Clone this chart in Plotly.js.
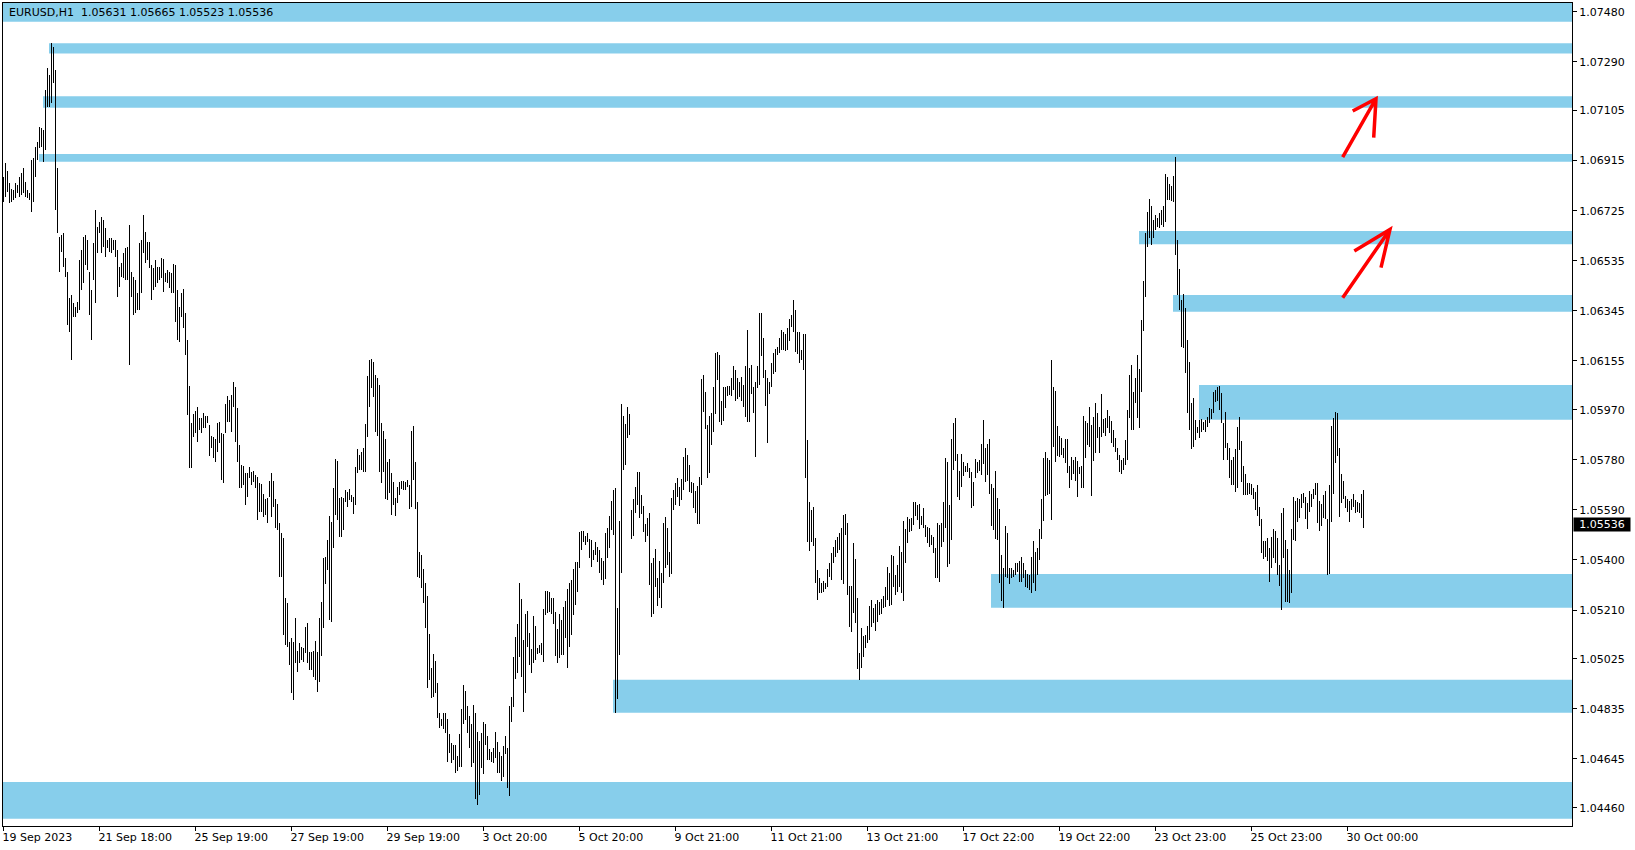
<!DOCTYPE html>
<html><head><meta charset="utf-8">
<script src="https://cdn.plot.ly/plotly-3.0.1.min.js"></script>
<style>html,body{margin:0;padding:0;background:#fff;overflow:hidden}#chart{width:1635px;height:850px}
#chart .scatterlayer path.js-line{shape-rendering:crispEdges}</style>
</head><body><div id="chart"></div>
<script>
const symbolTitle = "EURUSD,H1";
const lastOHLC = ["1.05631", "1.05665", "1.05523", "1.05536"];
const lastPrice = 1.05536;
const timeTickBars = [0,48,96,144,192,240,288,336,384,432,480,528,576,624,672];
const timeTickLabels = ["19 Sep 2023","21 Sep 18:00","25 Sep 19:00","27 Sep 19:00","29 Sep 19:00","3 Oct 20:00","5 Oct 20:00","9 Oct 21:00","11 Oct 21:00","13 Oct 21:00","17 Oct 22:00","19 Oct 22:00","23 Oct 23:00","25 Oct 23:00","30 Oct 00:00"];
const priceTicks = [1.07480,1.07290,1.07105,1.06915,1.06725,1.06535,1.06345,1.06155,1.05970,1.05780,1.05590,1.05400,1.05210,1.05025,1.04835,1.04645,1.04460];

const high = [
1.06852,1.06906,1.06875,1.06830,1.06807,1.06803,1.06830,1.06822,1.06852,1.06868,
1.06887,1.06833,1.06803,1.06792,1.06917,1.06925,1.06966,1.06985,1.07042,1.07038,
1.07031,1.07183,1.07266,1.07239,1.07361,1.07345,1.07258,1.06887,1.06624,1.06632,
1.06640,1.06546,1.06492,1.06394,1.06405,1.06375,1.06359,1.06378,1.06538,1.06576,
1.06624,1.06632,1.06614,1.06492,1.06424,1.06603,1.06727,1.06663,1.06682,1.06700,
1.06690,1.06659,1.06614,1.06622,1.06622,1.06614,1.06614,1.06576,1.06511,1.06527,
1.06565,1.06584,1.06587,1.06671,1.06492,1.06473,1.06462,1.06413,1.06603,1.06614,
1.06708,1.06643,1.06606,1.06606,1.06519,1.06508,1.06538,1.06511,1.06511,1.06546,
1.06542,1.06489,1.06500,1.06492,1.06489,1.06523,1.06519,1.06424,1.06359,1.06413,
1.06428,1.06337,1.06234,1.06059,1.05920,1.05953,1.05964,1.05980,1.05938,1.05938,
1.05957,1.05945,1.05945,1.05912,1.05870,1.05866,1.05859,1.05920,1.05923,1.05882,
1.05878,1.05991,1.06021,1.06006,1.06025,1.06074,1.06055,1.05976,1.05836,1.05760,
1.05756,1.05730,1.05730,1.05752,1.05733,1.05737,1.05722,1.05714,1.05692,1.05688,
1.05650,1.05631,1.05635,1.05699,1.05730,1.05699,1.05631,1.05612,1.05540,1.05502,
1.05483,1.05256,1.05237,1.05088,1.05104,1.05088,1.05180,1.05054,1.05085,1.05069,
1.05066,1.05145,1.05161,1.05050,1.05050,1.05054,1.05092,1.05050,1.05180,1.05240,
1.05407,1.05411,1.05475,1.05566,1.05544,1.05673,1.05783,1.05775,1.05635,1.05639,
1.05635,1.05665,1.05658,1.05669,1.05646,1.05639,1.05752,1.05821,1.05798,1.05809,
1.05825,1.05916,1.06097,1.06158,1.06162,1.06150,1.06101,1.06090,1.06063,1.05920,
1.05889,1.05859,1.05771,1.05783,1.05730,1.05696,1.05635,1.05677,1.05696,1.05699,
1.05699,1.05696,1.05703,1.05684,1.05889,1.05908,1.05771,1.05620,1.05430,1.05418,
1.05365,1.05312,1.05263,1.05119,1.04990,1.05043,1.05016,1.04933,1.04819,1.04796,
1.04819,1.04819,1.04796,1.04739,1.04705,1.04698,1.04698,1.04656,1.04739,1.04834,
1.04925,1.04902,1.04845,1.04807,1.04777,1.04849,1.04819,1.04747,1.04713,1.04743,
1.04785,1.04777,1.04732,1.04683,1.04671,1.04686,1.04747,1.04709,1.04671,1.04656,
1.04694,1.04732,1.04686,1.04845,1.04879,1.05031,1.05107,1.05157,1.05312,1.05252,
1.05096,1.05195,1.05206,1.05123,1.05062,1.05187,1.05149,1.05066,1.05077,1.05085,
1.05214,1.05282,1.05282,1.05278,1.05256,1.05256,1.05202,1.05138,1.05195,1.05172,
1.05221,1.05244,1.05290,1.05312,1.05324,1.05365,1.05392,1.05392,1.05506,1.05509,
1.05509,1.05490,1.05502,1.05479,1.05475,1.05437,1.05468,1.05449,1.05437,1.05407,
1.05396,1.05502,1.05521,1.05566,1.05623,1.05665,1.05673,1.05217,1.05547,1.05991,
1.05945,1.05916,1.05980,1.05953,1.05589,1.05631,1.05677,1.05733,1.05733,1.05646,
1.05604,1.05536,1.05559,1.05578,1.05388,1.05407,1.05441,1.05331,1.05396,1.05350,
1.05540,1.05563,1.05521,1.05430,1.05635,1.05665,1.05692,1.05711,1.05677,1.05707,
1.05790,1.05825,1.05798,1.05760,1.05696,1.05692,1.05661,1.05680,1.05714,1.06086,
1.06101,1.06037,1.05912,1.05945,1.05957,1.06055,1.06185,1.06188,1.06177,1.06002,
1.06055,1.06055,1.06059,1.06059,1.06090,1.06135,1.06120,1.06090,1.06074,1.06094,
1.06063,1.06135,1.06272,1.06128,1.06139,1.06055,1.06074,1.06135,1.06337,1.06337,
1.06242,1.06120,1.06090,1.06074,1.06147,1.06185,1.06200,1.06208,1.06242,1.06272,
1.06265,1.06257,1.06280,1.06314,1.06329,1.06386,1.06348,1.06265,1.06265,1.06196,
1.06257,1.06257,1.05855,1.05620,1.05589,1.05600,1.05483,1.05361,1.05331,1.05312,
1.05320,1.05312,1.05365,1.05388,1.05426,1.05449,1.05475,1.05487,1.05502,1.05521,
1.05570,1.05574,1.05540,1.05301,1.05301,1.05464,1.05403,1.05256,1.05047,1.05142,
1.05111,1.05115,1.05149,1.05225,1.05248,1.05217,1.05233,1.05248,1.05240,1.05252,
1.05263,1.05297,1.05373,1.05350,1.05418,1.05414,1.05343,1.05380,1.05452,1.05430,
1.05547,1.05517,1.05563,1.05555,1.05559,1.05620,1.05620,1.05608,1.05612,1.05566,
1.05597,1.05532,1.05525,1.05521,1.05494,1.05487,1.05445,1.05540,1.05532,1.05540,
1.05620,1.05786,1.05771,1.05608,1.05859,1.05920,1.05938,1.05802,1.05737,1.05802,
1.05771,1.05756,1.05768,1.05748,1.05733,1.05696,1.05783,1.05771,1.05779,1.05840,
1.05931,1.05825,1.05840,1.05859,1.05688,1.05673,1.05737,1.05635,1.05593,1.05418,
1.05369,1.05528,1.05502,1.05369,1.05369,1.05361,1.05388,1.05388,1.05396,1.05411,
1.05388,1.05361,1.05346,1.05343,1.05411,1.05471,1.05430,1.05445,1.05517,1.05631,
1.05786,1.05809,1.05786,1.05779,1.06158,1.06055,1.06040,1.05908,1.05870,1.05862,
1.05825,1.05859,1.05859,1.05756,1.05790,1.05779,1.05790,1.05775,1.05752,1.05756,
1.05945,1.05927,1.05920,1.05980,1.05912,1.05942,1.05995,1.05957,1.05904,1.06029,
1.05934,1.05938,1.05968,1.05945,1.05927,1.05893,1.05862,1.05825,1.05798,1.05779,
1.05787,1.05855,1.05968,1.06101,1.06139,1.06037,1.06090,1.06177,1.06124,1.06310,
1.06458,1.06640,1.06720,1.06769,1.06743,1.06690,1.06708,1.06697,1.06716,1.06727,
1.06743,1.06864,1.06852,1.06826,1.06818,1.06856,1.06928,1.06614,1.06504,1.06386,
1.06409,1.06356,1.06234,1.06150,1.05995,1.06014,1.05931,1.05904,1.05931,1.05934,
1.05923,1.05931,1.05942,1.05976,1.05972,1.06037,1.06044,1.06055,1.06059,1.06033,
1.05920,1.05961,1.05843,1.05825,1.05779,1.05790,1.05821,1.05904,1.05942,1.05851,
1.05756,1.05726,1.05692,1.05692,1.05688,1.05673,1.05658,1.05684,1.05600,1.05555,
1.05471,1.05471,1.05483,1.05445,1.05487,1.05517,1.05509,1.05483,1.05380,1.05578,
1.05597,1.05475,1.05441,1.05361,1.05517,1.05639,1.05623,1.05635,1.05631,1.05650,
1.05654,1.05639,1.05616,1.05661,1.05650,1.05669,1.05692,1.05692,1.05623,1.05612,
1.05646,1.05661,1.05555,1.05684,1.05908,1.05938,1.05961,1.05957,1.05825,1.05726,
1.05699,1.05642,1.05631,1.05623,1.05631,1.05650,1.05627,1.05620,1.05616,1.05650,
1.05665];

const low = [
1.06757,1.06776,1.06795,1.06754,1.06757,1.06765,1.06773,1.06792,1.06776,1.06784,
1.06792,1.06776,1.06773,1.06765,1.06719,1.06757,1.06852,1.06917,1.06963,1.06966,
1.06909,1.06955,1.07118,1.07118,1.07134,1.07209,1.06727,1.06640,1.06492,1.06568,
1.06511,1.06473,1.06291,1.06264,1.06158,1.06321,1.06321,1.06337,1.06348,1.06424,
1.06451,1.06519,1.06500,1.06329,1.06234,1.06462,1.06375,1.06565,1.06640,1.06565,
1.06587,1.06549,1.06584,1.06568,1.06565,1.06576,1.06549,1.06397,1.06435,1.06473,
1.06470,1.06462,1.06462,1.06139,1.06397,1.06329,1.06337,1.06348,1.06348,1.06413,
1.06565,1.06527,1.06538,1.06508,1.06386,1.06424,1.06435,1.06451,1.06462,1.06470,
1.06416,1.06454,1.06451,1.06432,1.06413,1.06413,1.06302,1.06234,1.06226,1.06321,
1.06280,1.06177,1.05949,1.05749,1.05749,1.05866,1.05882,1.05847,1.05893,1.05882,
1.05900,1.05900,1.05920,1.05794,1.05825,1.05787,1.05771,1.05809,1.05844,1.05703,
1.05692,1.05882,1.05923,1.05923,1.05885,1.05980,1.05847,1.05771,1.05673,1.05673,
1.05684,1.05608,1.05639,1.05711,1.05684,1.05696,1.05673,1.05551,1.05582,1.05582,
1.05563,1.05570,1.05540,1.05639,1.05563,1.05600,1.05521,1.05513,1.05335,1.05335,
1.05115,1.05077,1.05069,1.05001,1.04895,1.04868,1.05009,1.04974,1.05009,1.05020,
1.05012,1.05047,1.05009,1.04982,1.04982,1.04955,1.04944,1.04898,1.04936,1.05035,
1.05142,1.05309,1.05361,1.05172,1.05164,1.05445,1.05570,1.05551,1.05487,1.05487,
1.05513,1.05620,1.05600,1.05627,1.05620,1.05574,1.05608,1.05730,1.05741,1.05741,
1.05733,1.05733,1.05866,1.05980,1.06052,1.06018,1.05885,1.05870,1.05733,1.05692,
1.05733,1.05631,1.05627,1.05654,1.05570,1.05608,1.05566,1.05616,1.05646,1.05669,
1.05665,1.05665,1.05677,1.05593,1.05600,1.05703,1.05593,1.05335,1.05331,1.05293,
1.05237,1.05142,1.04914,1.04944,1.04876,1.04879,1.04895,1.04800,1.04762,1.04770,
1.04758,1.04743,1.04633,1.04667,1.04629,1.04641,1.04591,1.04599,1.04614,1.04614,
1.04777,1.04792,1.04743,1.04686,1.04614,1.04629,1.04493,1.04470,1.04508,1.04610,
1.04588,1.04698,1.04641,1.04641,1.04633,1.04629,1.04648,1.04591,1.04591,1.04561,
1.04576,1.04664,1.04535,1.04504,1.04785,1.04841,1.04948,1.04971,1.05031,1.04955,
1.04823,1.04895,1.05069,1.05001,1.04971,1.05009,1.05020,1.05043,1.05047,1.05039,
1.05012,1.05191,1.05199,1.05202,1.05195,1.05157,1.05035,1.05009,1.05028,1.05039,
1.05039,1.05104,1.04990,1.05069,1.05115,1.05191,1.05229,1.05278,1.05369,1.05437,
1.05468,1.05456,1.05468,1.05407,1.05373,1.05399,1.05418,1.05392,1.05350,1.05324,
1.05305,1.05327,1.05407,1.05445,1.05513,1.05494,1.04819,1.04872,1.05039,1.05350,
1.05741,1.05760,1.05862,1.05874,1.05479,1.05490,1.05578,1.05608,1.05559,1.05574,
1.05506,1.05468,1.05490,1.05305,1.05183,1.05195,1.05297,1.05225,1.05256,1.05217,
1.05312,1.05369,1.05380,1.05335,1.05346,1.05589,1.05608,1.05639,1.05604,1.05627,
1.05665,1.05696,1.05699,1.05658,1.05654,1.05597,1.05578,1.05536,1.05536,1.05684,
1.05961,1.05896,1.05711,1.05730,1.05836,1.05885,1.05953,1.06082,1.05923,1.05912,
1.05927,1.05976,1.06021,1.06025,1.06021,1.06044,1.06002,1.06010,1.06018,1.06002,
1.05980,1.05942,1.05923,1.05923,1.06029,1.05957,1.05790,1.06052,1.06063,1.06173,
1.06090,1.05983,1.05843,1.06029,1.06055,1.06105,1.06113,1.06177,1.06185,1.06196,
1.06196,1.06192,1.06196,1.06230,1.06284,1.06265,1.06188,1.06181,1.06147,1.06158,
1.06120,1.05711,1.05468,1.05433,1.05468,1.05452,1.05312,1.05248,1.05274,1.05274,
1.05278,1.05290,1.05297,1.05335,1.05324,1.05388,1.05411,1.05426,1.05437,1.05324,
1.05309,1.05494,1.05267,1.05145,1.05126,1.05199,1.05161,1.04986,1.04944,1.04990,
1.05031,1.05066,1.05085,1.05096,1.05145,1.05161,1.05130,1.05164,1.05191,1.05195,
1.05217,1.05221,1.05248,1.05225,1.05229,1.05297,1.05267,1.05278,1.05297,1.05274,
1.05244,1.05388,1.05464,1.05506,1.05509,1.05532,1.05566,1.05551,1.05517,1.05532,
1.05521,1.05487,1.05464,1.05449,1.05456,1.05426,1.05331,1.05331,1.05316,1.05449,
1.05468,1.05521,1.05373,1.05384,1.05475,1.05741,1.05775,1.05639,1.05627,1.05677,
1.05718,1.05733,1.05733,1.05711,1.05597,1.05604,1.05711,1.05730,1.05737,1.05722,
1.05764,1.05696,1.05722,1.05650,1.05528,1.05513,1.05479,1.05475,1.05312,1.05244,
1.05217,1.05335,1.05331,1.05309,1.05331,1.05335,1.05343,1.05354,1.05316,1.05316,
1.05331,1.05297,1.05293,1.05286,1.05274,1.05312,1.05282,1.05343,1.05399,1.05479,
1.05547,1.05642,1.05646,1.05650,1.05551,1.05828,1.05771,1.05794,1.05790,1.05798,
1.05787,1.05768,1.05730,1.05673,1.05703,1.05726,1.05699,1.05639,1.05726,1.05673,
1.05673,1.05787,1.05836,1.05828,1.05642,1.05775,1.05805,1.05862,1.05805,1.05866,
1.05882,1.05870,1.05900,1.05882,1.05844,1.05828,1.05809,1.05779,1.05733,1.05726,
1.05741,1.05760,1.05779,1.05938,1.05893,1.05893,1.05995,1.05938,1.05900,1.06037,
1.06268,1.06397,1.06587,1.06621,1.06595,1.06621,1.06651,1.06663,1.06659,1.06670,
1.06663,1.06682,1.06765,1.06765,1.06761,1.06757,1.06557,1.06405,1.06348,1.06208,
1.06204,1.06109,1.05957,1.05893,1.05821,1.05828,1.05855,1.05882,1.05862,1.05885,
1.05893,1.05885,1.05904,1.05920,1.05934,1.05957,1.05999,1.06002,1.05968,1.05920,
1.05779,1.05825,1.05779,1.05711,1.05684,1.05684,1.05658,1.05673,1.05817,1.05696,
1.05646,1.05646,1.05646,1.05650,1.05646,1.05631,1.05589,1.05566,1.05528,1.05426,
1.05403,1.05411,1.05396,1.05316,1.05369,1.05407,1.05388,1.05343,1.05301,1.05210,
1.05407,1.05240,1.05240,1.05237,1.05274,1.05475,1.05471,1.05544,1.05559,1.05597,
1.05616,1.05555,1.05517,1.05582,1.05600,1.05631,1.05646,1.05540,1.05509,1.05528,
1.05559,1.05555,1.05343,1.05346,1.05544,1.05650,1.05768,1.05794,1.05563,1.05616,
1.05631,1.05597,1.05582,1.05544,1.05589,1.05600,1.05578,1.05582,1.05578,1.05559,
1.05523];

// Drawn zones: first bar index, top price, bottom price
const zoneStartBar = [-2, 22.75, 19.75, 17.75, 567.75, 584.75, 597.75, 493.75, 304.75, -2];
const zoneTop      = [1.07560, 1.07360, 1.07159, 1.06940, 1.06648, 1.06405, 1.06064, 1.05347, 1.04945, 1.04557];
const zoneBottom   = [1.07442, 1.07321, 1.07116, 1.06911, 1.06598, 1.06342, 1.05932, 1.05219, 1.04820, 1.04418];

// Hand-drawn arrows: tail, tip, wing A, wing B as [bar, price]
const arrowTail = [[669.6, 1.06928], [669.6, 1.06395]];
const arrowTip  = [[686.25, 1.07150], [693.25, 1.06654]];
const arrowWingA = [[674.6, 1.07103], [675.4, 1.06572]];
const arrowWingB = [[685.1, 1.07002], [688.75, 1.06509]];

const xs = [], ys = [];
for (let i = 0; i < high.length; i++) { xs.push(i, i, null); ys.push(low[i], high[i], null); }

const shapes = [];
for (let k = 0; k < zoneTop.length; k++) {
  shapes.push({type:'rect', xref:'x', yref:'y', x0: zoneStartBar[k], x1: 800, y0: zoneBottom[k], y1: zoneTop[k],
    fillcolor:'#87CEEB', line:{width:0}, layer:'below'});
}
for (let k = 0; k < arrowTail.length; k++) {
  const p = (a) => a[0] + ',' + a[1];
  const path = 'M' + p(arrowTail[k]) + 'L' + p(arrowTip[k]) + 'M' + p(arrowWingA[k]) + 'L' + p(arrowTip[k]) + 'L' + p(arrowWingB[k]);
  shapes.push({type:'path', xref:'x', yref:'y', path: path, line:{color:'#FF0000', width:3.5}, layer:'above'});
}

const annotations = [
  {xref:'paper', yref:'paper', x:0.00255, y:0.98785, xanchor:'left', yanchor:'middle', showarrow:false,
   text: symbolTitle + '\u00a0\u00a0' + lastOHLC.join(' '), font:{family:'DejaVu Sans', size:11, color:'#000'}},
  {xref:'paper', yref:'y', x:1, xshift:1, y:lastPrice, xanchor:'left', yanchor:'middle', showarrow:false,
   text: lastPrice.toFixed(5), bgcolor:'#000', width:56, height:13, borderpad:0,
   font:{family:'DejaVu Sans', size:11, color:'#fff'}}
];

const data = [{type:'scatter', mode:'lines', x: xs, y: ys, line:{color:'#000', width:1}, hoverinfo:'skip', connectgaps:false}];

const layout = {
  width:1635, height:850, margin:{l:3, r:63, t:3, b:24},
  paper_bgcolor:'#fff', plot_bgcolor:'#fff', showlegend:false,
  font:{family:'DejaVu Sans', size:11, color:'#000'},
  xaxis:{range:[-0.25, 784.25], showgrid:false, zeroline:false, showline:true, mirror:true, linecolor:'#000', linewidth:1,
    tickmode:'array', tickvals: timeTickBars, ticktext: timeTickLabels, ticks:'outside', ticklen:4, tickcolor:'#000',
    ticklabelposition:'outside right', ticklabelshift:-2, ticklabelstandoff:1,
    tickfont:{family:'DejaVu Sans', size:11, color:'#000'}},
  yaxis:{side:'right', range:[1.043905, 1.075130], showgrid:false, zeroline:false, showline:true, mirror:true, linecolor:'#000', linewidth:1,
    tickmode:'array', tickvals: priceTicks, tickformat:'.5f', ticks:'outside', ticklen:4, tickcolor:'#000',
    tickfont:{family:'DejaVu Sans', size:11, color:'#000'}},
  shapes: shapes, annotations: annotations
};

Plotly.newPlot('chart', data, layout, {staticPlot:true, displayModeBar:false});
</script>
</body></html>
